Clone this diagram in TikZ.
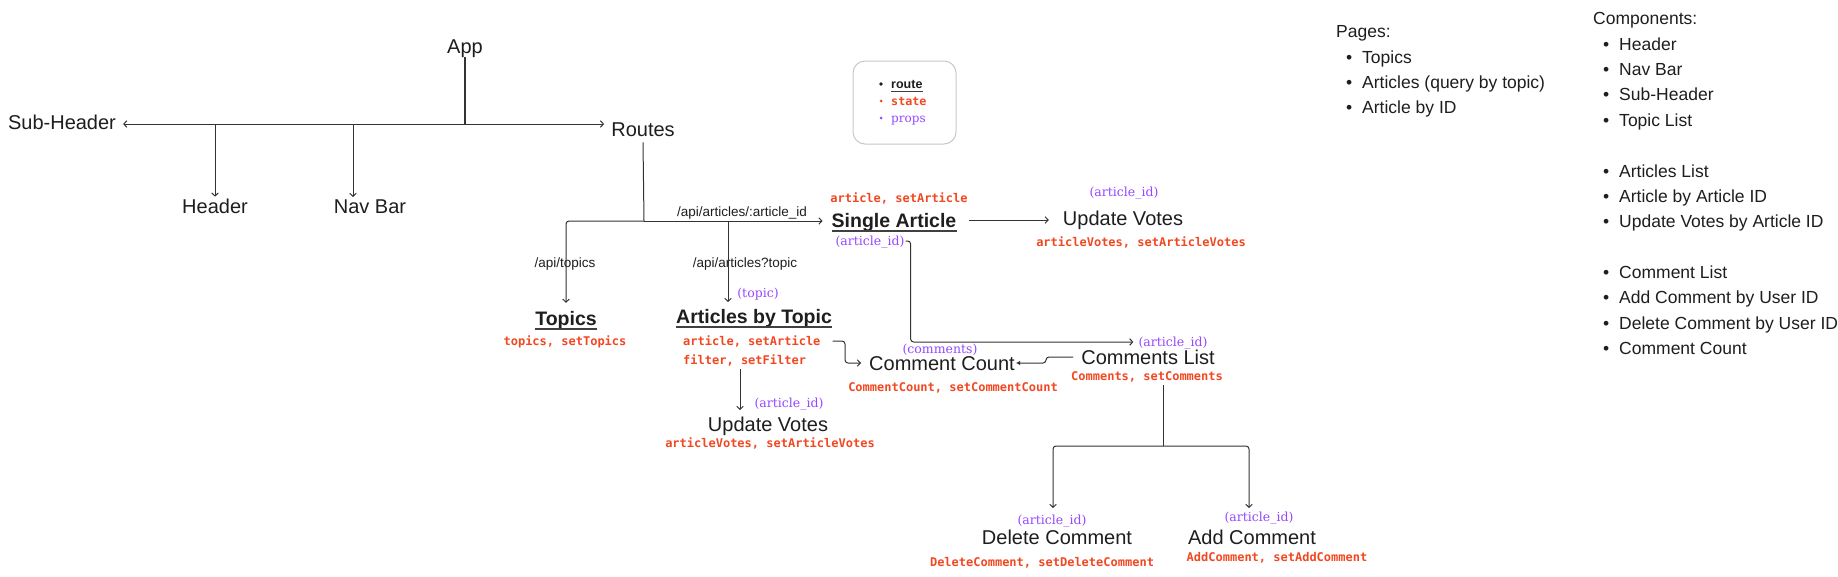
\documentclass[tikz,border=0pt]{standalone}
\usepackage{fontspec}
\setmainfont{Liberation Sans}
\newfontfamily\monof{DejaVu Sans Mono}
\newfontfamily\seriff{DejaVu Serif}
\usetikzlibrary{arrows.meta}
\definecolor{ink}{HTML}{1E1E1E}
\definecolor{wire}{HTML}{333333}
\definecolor{stred}{HTML}{F24822}
\definecolor{prpur}{HTML}{9747FF}
\definecolor{boxgray}{HTML}{C8C8C8}
\tikzset{
 lbl/.style={font=\fontsize{20}{24}\selectfont, text=ink, inner sep=0pt, text height=14.3pt, text depth=0pt},
 ttl/.style={font=\fontsize{19.5}{24}\selectfont\bfseries, text=ink, inner sep=0pt, text height=14pt, text depth=0pt},
 stt/.style={font=\monof\bfseries\fontsize{12}{14}\selectfont, text=stred, inner sep=0pt, text height=8.7pt, text depth=0pt},
 prp/.style={font=\seriff\fontsize{12.5}{15}\selectfont, text=prpur, inner sep=0pt, text height=9.1pt, text depth=0pt},
 rte/.style={font=\fontsize{13.5}{16}\selectfont, text=ink, inner sep=0pt, text height=9.7pt, text depth=0pt},
 lst/.style={font=\fontsize{17.5}{21}\selectfont, text=ink, inner sep=0pt, anchor=base west},
 conn/.style={draw=wire, line width=1pt, rounded corners=3pt},
 arw/.style={conn, -{Straight Barb[length=3pt,width=6.5pt]}},
 arwf/.style={conn, -{Latex[length=4pt,width=4.5pt]}},
 uline/.style={draw=ink!85, line width=1.6pt},
}
\begin{document}
\begin{tikzpicture}[x=1pt,y=-1pt]
\useasboundingbox (0,0) rectangle (1838,576);
\fill[white] (0,0) rectangle (1838,576);

% ---- main nodes
\node[lbl] (app) at (465,46) {App};
\node[lbl] (subh) at (62,122) {Sub-Header};
\node[lbl] (routes) at (643,129) {Routes};
\node[lbl] (header) at (215,206) {Header};
\node[lbl] (navbar) at (370,206) {Nav Bar};
\node[lbl] (uv1) at (1123,218) {Update Votes};
\node[lbl] (cc) at (942,363) {Comment Count};
\node[lbl] (cl) at (1148,357) {Comments List};
\node[lbl] (uv2) at (768,424) {Update Votes};
\node[lbl] (dc) at (1057,537) {Delete Comment};
\node[lbl] (ac) at (1252,537) {Add Comment};

\node[ttl] (topics) at (566,318) {Topics};
\node[ttl] (abt) at (754,316) {Articles by Topic};
\node[ttl] (sa) at (894,220) {Single Article};
\foreach \n in {topics,abt,sa}
  \draw[uline] ([yshift=-3.5pt]\n.south west) -- ([yshift=-3.5pt]\n.south east);

% ---- state labels
\node[stt] (ssa) at (899,198) {article, setArticle};
\node[stt] (suv1) at (1141,242) {articleVotes, setArticleVotes};
\node[stt] (stop) at (565,341) {topics, setTopics};
\node[stt, anchor=west] (sabt1) at (683,341) {article, setArticle};
\node[stt, anchor=west] (sabt2) at (683,360) {filter, setFilter};
\node[stt] (scc) at (953,387) {CommentCount, setCommentCount};
\node[stt] (scl) at (1147,376) {Comments, setComments};
\node[stt] (suv2) at (770,443) {articleVotes, setArticleVotes};
\node[stt] (sdc) at (1042,562) {DeleteComment, setDeleteComment};
\node[stt] (sac) at (1277,557) {AddComment, setAddComment};

% ---- props labels
\node[prp] (psa) at (870,241) {(article\_id)};
\node[prp] (puv1) at (1124,192) {(article\_id)};
\node[prp] (pabt) at (758,293) {(topic)};
\node[prp] (pcc) at (940,349) {(comments)};
\node[prp] (pcl) at (1173,342) {(article\_id)};
\node[prp] (puv2) at (789,403) {(article\_id)};
\node[prp] (pdc) at (1052,520) {(article\_id)};
\node[prp] (pac) at (1259,517) {(article\_id)};

% ---- route labels
\node[rte] (r1) at (742,212) {/api/articles/:article\_id};
\node[rte] (r2) at (565,263) {/api/topics};
\node[rte] (r3) at (745,263) {/api/articles?topic};

% ---- App tree
\coordinate (aj) at (465,124);
\coordinate (nbin) at (353,197);
\draw[conn, line width=1.5pt] ([yshift=-4pt]app.south) -- (aj);
\draw[arw, shorten >=7pt] (aj) -- (aj -| subh.east);
\draw[arw, shorten >=7pt] (aj) -- (aj -| routes.west);
\draw[arw, shorten >=2pt] (aj -| header.north) -- (header.north);
\draw[arw] (aj -| nbin) -- (nbin);

% ---- Routes tree
\coordinate (rj) at (644,221);
\coordinate (abtin) at (728,302);
\draw[conn] ([yshift=-6pt]routes.south) -- (rj);
\draw[arw] (rj) -| ([yshift=8pt]topics.north);
\draw[arw, shorten >=9pt] (rj) -- (rj -| sa.west);
\draw[arw] (abtin |- rj) -- (abtin);

% ---- Single Article
\draw[arw, shorten <=12pt, shorten >=14pt] (sa.east) -- (sa.east -| uv1.west);
\draw[arw, shorten <=1pt, shorten >=5pt] (psa.east) -- ++(6,0) |- (pcl.west);

% ---- Articles by topic
\coordinate (k1) at (845,341);
\draw[arw, shorten >=8pt] ([xshift=12pt]sabt1.east) -- (k1) |- (cc.west);
\coordinate (v1) at (740,369);
\coordinate (v2) at (740,410);
\draw[arw] (v1) -- (v2);

% ---- Comments list
\coordinate (k2) at (1046,357);
\draw[arwf, shorten >=1pt] ([xshift=-8pt]cl.west) -- (k2) |- (cc.east);
\coordinate (cj) at (1163,446);
\coordinate (dcin) at (1053,508);
\coordinate (acin) at (1249,508);
\draw[conn] ([yshift=-4.6pt]scl.south -| cj) -- (cj);
\draw[arw] (cj) -| (dcin);
\draw[arw] (cj) -| (acin);

% ---- Legend
\draw[draw=boxgray, line width=1pt, rounded corners=12pt] (853,61) rectangle (956,144);
\fill[ink] (881,84) circle (1.9pt);
\fill[stred] (881,101) circle (1.5pt);
\fill[prpur] (881,118) circle (1.5pt);
\node[anchor=west, font=\bfseries\fontsize{12.5}{15}\selectfont, text=ink, inner sep=0pt, text height=9pt, text depth=0pt] (lgr) at (891,84) {route};
\draw[uline, line width=1.3pt] ([yshift=-3pt]lgr.south west) -- ([yshift=-3pt]lgr.south east);
\node[stt, anchor=west, font=\monof\bfseries\fontsize{11.7}{14}\selectfont] (lgs) at (891,101) {state};
\node[prp, anchor=west, font=\seriff\fontsize{12}{14}\selectfont] (lgp) at (891,118) {props};

% ---- Pages list
\node[lst] (pg) at (1336,37.3) {Pages:};
\foreach \yy/\tt [count=\i] in {63.3/Topics, 88.3/Articles (query by topic), 113.3/Article by ID}
  \node[lst] (pg\i) at (1346,\yy) {•\hspace{9.9pt}\tt};

% ---- Components list
\node[lst] (cp) at (1593,24.3) {Components:};
\foreach \yy/\tt [count=\i] in {50.3/Header, 75.3/Nav Bar, 100.3/Sub-Header, 126.3/Topic List,
  177.3/Articles List, 202.3/Article by Article ID, 227.3/Update Votes by Article ID,
  278.3/Comment List, 303.3/Add Comment by User ID, 329.3/Delete Comment by User ID, 354.3/Comment Count}
  \node[lst] (cp\i) at (1603,\yy) {•\hspace{9.9pt}\tt};
\end{tikzpicture}
\end{document}
